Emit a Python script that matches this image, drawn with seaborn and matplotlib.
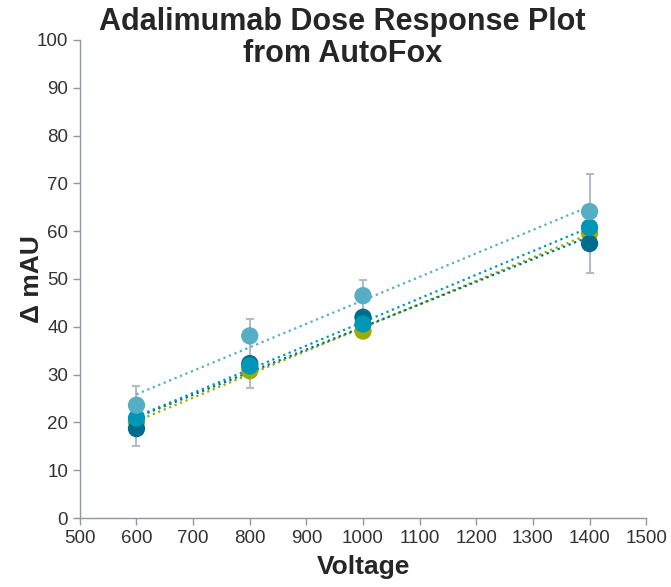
import numpy as np
import pandas as pd
import seaborn as sns
import matplotlib
matplotlib.use("Agg")
import matplotlib.pyplot as plt

voltage = [600, 800, 1000, 1400]
series_names = ["Run A", "Run B", "Run C", "Run D"]
olive_vals = [20.1, 30.8, 39.1, 59.6]
dark_vals = [18.7, 32.3, 42.0, 57.4]
medium_vals = [20.9, 31.8, 40.6, 60.8]
light_vals = [23.6, 38.1, 46.5, 64.1]
err_center = [21.3, 34.4, 44.0, 61.6]
err_half = [6.3, 7.2, 5.7, 10.4]

colors = ["#9AAD00", "#006C8C", "#0096B6", "#55AEC4"]
values = [olive_vals, dark_vals, medium_vals, light_vals]

rows = []
for name, vals in zip(series_names, values):
    for v, y in zip(voltage, vals):
        rows.append({"series": name, "Voltage": v, "mAU": y})
df = pd.DataFrame(rows)

sns.set_style("ticks")
plt.rcParams["font.family"] = ["Liberation Sans", "DejaVu Sans"]

fig = plt.figure(figsize=(6.71, 5.87), dpi=100)
ax = fig.add_axes([0.119, 0.1175, 0.844, 0.8145])

# error bars behind everything
ax.errorbar(voltage, err_center, yerr=err_half, fmt="none", ecolor="#B3BBC4",
            elinewidth=1.5, capsize=3, capthick=1.5, zorder=1)

for i, (name, col) in enumerate(zip(series_names, colors)):
    sub = df[df["series"] == name]
    sns.regplot(data=sub, x="Voltage", y="mAU", ax=ax, ci=None, scatter=False,
                color=col, line_kws={"linestyle": ":", "linewidth": 1.6, "zorder": 2})
for i, (name, col) in enumerate(zip(series_names, colors)):
    sub = df[df["series"] == name]
    sns.scatterplot(data=sub, x="Voltage", y="mAU", ax=ax, color=col, s=155,
                    edgecolor="none", linewidth=0, zorder=3 + i, legend=False)

ax.set_xlim(500, 1500)
ax.set_ylim(0, 100)
ax.set_xticks(range(500, 1501, 100))
ax.set_yticks(range(0, 101, 10))
ax.tick_params(axis="both", labelsize=13.5, colors="#8C98A6", labelcolor="#333333",
               length=5, width=1)
for s in ["top", "right"]:
    ax.spines[s].set_visible(False)
for s in ["left", "bottom"]:
    ax.spines[s].set_color("#8C98A6")
    ax.spines[s].set_linewidth(1)

ax.set_xlabel("Voltage", fontsize=19, fontweight="bold", color="#262626", labelpad=6)
ax.set_ylabel("Δ mAU", fontsize=19, fontweight="bold", color="#262626", labelpad=-5)
fig.text(0.51, 0.988, "Adalimumab Dose Response Plot\nfrom AutoFox", ha="center", va="top",
         fontsize=22, fontweight="bold", color="#262626", linespacing=1.1)

fig.savefig("out.png", dpi=100)
